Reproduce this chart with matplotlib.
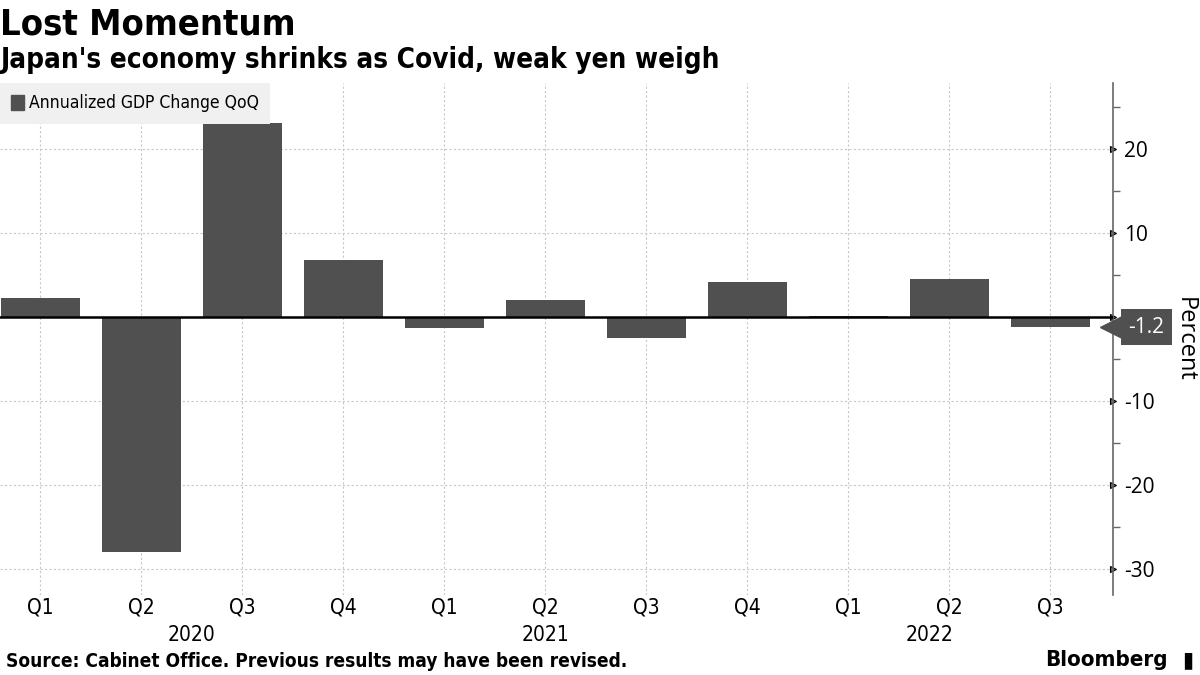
import matplotlib
matplotlib.use("Agg")
import matplotlib.pyplot as plt
from matplotlib.patches import Patch

plt.rcParams['font.family'] = ['DejaVu Sans']
plt.rcParams['font.stretch'] = 'condensed'

quarters = ['Q1', 'Q2', 'Q3', 'Q4', 'Q1', 'Q2', 'Q3', 'Q4', 'Q1', 'Q2', 'Q3']
gdp = [2.3, -28.0, 23.1, 6.8, -1.3, 2.0, -2.5, 4.2, 0.2, 4.6, -1.2]
years = ['2020', '2021', '2022']
year_pos = [1.5, 5.0, 8.8]

bar_col = '#505050'

fig = plt.figure(figsize=(12, 6.75), dpi=100)
ax = fig.add_axes([0.0, 0.1185, 0.9275, 0.7585])

x = list(range(len(gdp)))
ax.bar(x, gdp, width=0.78, color=bar_col, zorder=2)
ax.axhline(0, color='black', lw=1.8, zorder=3)

ax.set_xlim(-0.4, 10.62)
ax.set_ylim(-33.1, 27.9)

# grid
for xi in x:
    ax.axvline(xi, color='#c8c8c8', lw=0.8, ls=(0, (2, 2)), zorder=1)
for yv in [20, 10, -10, -20, -30]:
    ax.axhline(yv, color='#c8c8c8', lw=0.8, ls=(0, (2, 2)), zorder=1)

# spines / axes
for s in ['top', 'left', 'bottom']:
    ax.spines[s].set_visible(False)
ax.spines['right'].set_color('#666666')
ax.spines['right'].set_linewidth(1.2)

ax.yaxis.tick_right()
ax.set_yticks([20, 10, 0, -10, -20, -30])
ax.set_yticklabels(['20', '10', '0', '-10', '-20', '-30'], fontsize=15,
                   family=['Open Sans', 'DejaVu Sans'], fontstretch='normal')
ax.set_yticks([25, 15, 5, -5, -15, -25], minor=True)
ax.tick_params(axis='y', which='major', length=0, pad=8)
ax.tick_params(axis='y', which='minor', length=5, color='#666666', width=1)
for t in ax.yaxis.get_major_ticks():
    t.tick2line.set_marker('>')
    t.tick2line.set_markersize(5)
    t.tick2line.set_color('#666666')

ax.set_xticks(x)
ax.set_xticklabels(quarters, fontsize=15)
ax.tick_params(axis='x', length=0, pad=2)
for yl, yp in zip(years, year_pos):
    ax.text(yp, -0.078, yl, transform=ax.get_xaxis_transform(), ha='center',
            va='center', fontsize=15)

# last value tag
last = gdp[-1]
ax.plot([1.0], [last], marker='<', markersize=19, color=bar_col,
        transform=ax.get_yaxis_transform(), clip_on=False, zorder=5)
ax.annotate(f'{last:.1f}', xy=(1.0, last), xycoords=ax.get_yaxis_transform(),
            xytext=(11, 0), textcoords='offset points', ha='left', va='center',
            fontsize=15, color='white', family=['Open Sans', 'DejaVu Sans'],
            fontstretch='normal',
            bbox=dict(boxstyle='square,pad=0.35', fc=bar_col, ec='none'),
            zorder=6)

fig.text(0.9875, 0.497, 'Percent', rotation=270, ha='center', va='center',
         fontsize=17, family=['Open Sans', 'DejaVu Sans'], fontstretch='normal')

# legend
leg = ax.legend(handles=[Patch(color=bar_col, label='Annualized GDP Change QoQ')],
                loc='upper left', bbox_to_anchor=(0.0, 1.0), borderaxespad=0,
                fontsize=12.6, frameon=True, fancybox=False, handlelength=0.7,
                handleheight=0.9, handletextpad=0.3, borderpad=0.65)
leg.get_frame().set_facecolor('#f0f0f0')
leg.get_frame().set_edgecolor('none')
leg.get_frame().set_alpha(1)

# titles
fig.text(0.0, 0.963, 'Lost Momentum', fontsize=26, fontweight='bold',
         ha='left', va='center')
fig.text(0.0, 0.911, "Japan's economy shrinks as Covid, weak yen weigh",
         fontsize=20, fontweight='bold', ha='left', va='center')
fig.text(0.005, 0.02, 'Source: Cabinet Office. Previous results may have been revised.',
         fontsize=13.7, fontweight='bold', ha='left', va='center')
fig.text(0.973, 0.022, 'Bloomberg', fontsize=16, fontweight='bold',
         ha='right', va='center')
fig.text(0.99, 0.022, '\u25AE', fontsize=16, ha='center', va='center',
         family=['DejaVu Sans'])

fig.savefig('out.png', dpi=100)
